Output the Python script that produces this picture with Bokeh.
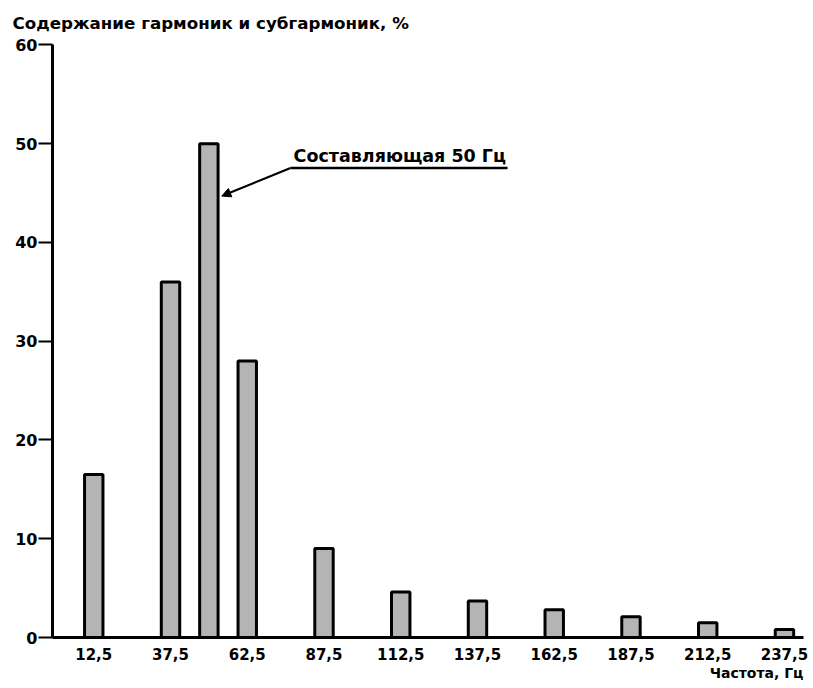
from bokeh.plotting import figure
from bokeh.models import Range1d, FixedTicker, Label, Arrow, NormalHead, ColumnDataSource, Title
from bokeh.embed import file_html
from bokeh.resources import INLINE

# ---- data ----
freqs = [12.5, 37.5, 50, 62.5, 87.5, 112.5, 137.5, 162.5, 187.5, 212.5, 237.5]
content = [16.5, 36, 50, 28, 9, 4.6, 3.7, 2.8, 2.1, 1.5, 0.8]
x_ticks = [12.5, 37.5, 62.5, 87.5, 112.5, 137.5, 162.5, 187.5, 212.5, 237.5]
x_tick_labels = ["12,5", "37,5", "62,5", "87,5", "112,5", "137,5", "162,5", "187,5", "212,5", "237,5"]
y_ticks = [0, 10, 20, 30, 40, 50, 60]
title_text = "Содержание гармоник и субгармоник, %"
x_title = "Частота, Гц"
note_text = "Составляющая 50 Гц"
note_freq = 50

FONT = "DejaVu Sans"
W, H = 810, 686

p = figure(width=W, height=H, output_backend="svg", toolbar_location=None,
           x_range=Range1d(-0.94, 243.7), y_range=Range1d(0, 60.05),
           min_border_left=52, min_border_top=44, min_border_bottom=H - 637,
           min_border_right=W - 803)
p.outline_line_color = None
p.xgrid.visible = False
p.ygrid.visible = False
p.background_fill_color = "white"
p.border_fill_color = "white"

# title at top-left
p.title.text = title_text
p.title.align = "left"
p.title.vertical_align = "top"
p.title.offset = -40
p.title.standoff = 20
p.title.text_font = FONT
p.title.text_font_style = "bold"
p.title.text_font_size = "16.7px"
p.title.text_color = "black"

src = ColumnDataSource(dict(x=freqs, top=content))
p.vbar(x="x", top="top", bottom=0, width=6, source=src,
       fill_color="#b4b4b4", line_color="black", line_width=3)

# axes
p.xaxis.ticker = FixedTicker(ticks=x_ticks)
p.xaxis.major_label_overrides = {t: l for t, l in zip(x_ticks, x_tick_labels)}
p.xaxis.major_tick_out = 0
p.xaxis.major_tick_in = 0
p.xaxis.minor_tick_out = 0
p.xaxis.minor_tick_in = 0
p.xaxis.axis_line_width = 3
p.xaxis.major_label_standoff = 10
p.xaxis.major_label_text_font = FONT
p.xaxis.major_label_text_font_style = "bold"
p.xaxis.major_label_text_font_size = "15px"
p.xaxis.major_label_text_color = "black"

p.yaxis.ticker = FixedTicker(ticks=y_ticks)
p.yaxis.major_tick_out = 14
p.yaxis.major_tick_in = 0
p.yaxis.major_tick_line_width = 2
p.yaxis.minor_tick_out = 0
p.yaxis.minor_tick_in = 0
p.yaxis.axis_line_width = 3
p.yaxis.major_label_standoff = 1
p.yaxis.major_label_text_font = FONT
p.yaxis.major_label_text_font_style = "bold"
p.yaxis.major_label_text_font_size = "16px"
p.yaxis.major_label_text_color = "black"

# x axis title at bottom right
p.add_layout(Title(text=x_title, align="right", text_font=FONT, text_font_style="bold",
                   text_font_size="14px", text_color="black", standoff=0), "below")

# annotation
p.add_layout(Label(x=77.6, y=48.8, text=note_text, text_font=FONT,
                   text_font_style="bold", text_font_size="17.5px",
                   text_baseline="middle", text_align="left", text_color="black"))
p.segment(x0=[76.6], y0=[47.55], x1=[147.3], y1=[47.55], line_color="black", line_width=2.5)
p.add_layout(Arrow(end=NormalHead(size=9, fill_color="black", line_color="black"),
                   x_start=76.6, y_start=47.55, x_end=note_freq + 4.2, y_end=44.7,
                   line_color="black", line_width=2.2))

open("out.html", "w").write(file_html(p, INLINE))
